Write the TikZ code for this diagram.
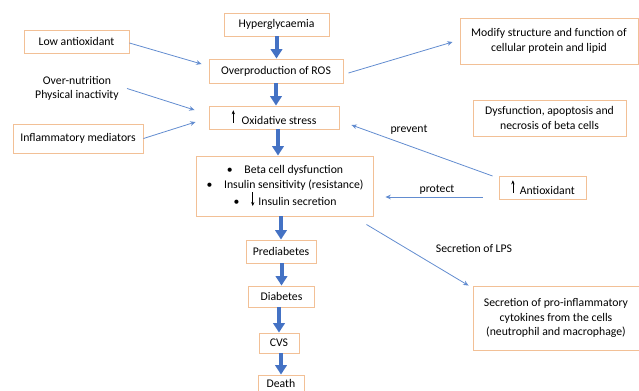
\documentclass[tikz,border=0pt]{standalone}
\usepackage{fontspec}
\setmainfont{Carlito}
\usetikzlibrary{arrows.meta}
\definecolor{boxorange}{RGB}{242,192,150}
\definecolor{arrowblue}{RGB}{68,114,196}
\definecolor{lineblue}{RGB}{98,140,208}
\newcommand{\uparr}{\tikz[baseline=-1.5pt]\draw[line width=0.5pt,-{Stealth[length=3pt,width=2.5pt]}] (0,0) -- (0,9.5pt);}
\newcommand{\downarr}{\tikz[baseline=-1pt]\draw[line width=0.5pt,-{Stealth[length=3pt,width=2.5pt]}] (0,9pt) -- (0,-1.5pt);}
\begin{document}
\begin{tikzpicture}[x=0.75pt,y=-0.75pt,
	font=\fontsize{8.8pt}{11pt}\selectfont,
	main node/.style = {rectangle,draw=boxorange,line width=0.7pt,inner sep=0pt,align=center},
	big arrow/.style = {draw=arrowblue,line width=3pt,-{Triangle[length=7pt,width=8.5pt]}},
	thin arrow/.style = {draw=lineblue,line width=0.6pt,-{Stealth[length=4pt,width=3.5pt]}}]
	
	\useasboundingbox (0,0) rectangle (639,390);
	
	% central chain
	\node[main node,minimum width=78.75pt,minimum height=17.25pt] at (276.5,24.5) (1) {Hyperglycaemia};
	\node[main node,minimum width=100.5pt,minimum height=18pt] at (276,71) (2) {Overproduction of ROS};
	\node[main node,minimum width=97.5pt,minimum height=17.25pt] at (274,117.5) (3) {\uparr\hspace{5pt}Oxidative stress};
	\node[main node,minimum width=132.75pt,minimum height=45pt] at (285,186) (4)
		{\textbullet\quad Beta cell dysfunction\\
		 \textbullet\quad Insulin sensitivity (resistance)\\
		 \textbullet\quad \downarr\hspace{3pt}Insulin secretion};
	\node[main node,minimum width=52.5pt,minimum height=17.25pt] at (281,251.5) (5) {Prediabetes};
	\node[main node,minimum width=49.5pt,minimum height=15.75pt] at (281.5,296.5) (6) {Diabetes};
	\node[main node,minimum width=30pt,minimum height=15pt] at (279,343) (7) {CVS};
	\node[main node,minimum width=34.5pt,minimum height=12pt] at (281,383) (8) {Death};
	
	% left side
	\node[main node,minimum width=78.75pt,minimum height=17.25pt] at (76.5,41.5) (9) {Low antioxidant};
	\node[align=center,inner sep=0pt] at (77,88.5) (10) {Over-nutrition\\Physical inactivity};
	\node[main node,minimum width=97.5pt,minimum height=21.75pt] at (78,138.5) (11) {Inflammatory mediators};
	
	% right side
	\node[main node,minimum width=133.5pt,minimum height=34.5pt] at (549,41) (12)
		{Modify structure and function of\\cellular protein and lipid};
	\node[main node,minimum width=114.75pt,minimum height=27pt] at (549.5,118) (13)
		{Dysfunction, apoptosis and\\necrosis of beta cells};
	\node[main node,minimum width=65.25pt,minimum height=17.25pt] at (543,187.5) (14) {\uparr\hspace{4pt}Antioxidant};
	\node[main node,minimum width=124.5pt,minimum height=48pt] at (556,318) (15)
		{Secretion of pro-inflammatory\\cytokines from the cells\\(neutrophil and macrophage)};
	
	\node at (409,130) (16) {prevent};
	\node at (437,190) (17) {protect};
	\node at (474,248) (18) {Secretion of LPS};
	
	\draw[big arrow] (1.south) -- (1.south |- 2.north);
	\draw[big arrow] (2.south) -- (2.south |- 3.north);
	\draw[big arrow] ([xshift=3]3.south) -- ([xshift=3]3.south |- 4.north);
	\draw[big arrow] (5.north |- 4.south) -- (5.north);
	\draw[big arrow] (6.north |- 5.south) -- (6.north);
	\draw[big arrow] (7.north |- 6.south) -- (7.north);
	\draw[big arrow] (8.north |- 7.south) -- (8.north);
	
	\draw[thin arrow] ([shift={(0,1.5)}]9.east) -- ([shift={(-7,-7)}]2.west);
	\draw[thin arrow] ([shift={(8,0)}]10.east) -- ([shift={(-14,-7.5)}]3.west);
	\draw[thin arrow] (11.east) -- ([shift={(-13,4.5)}]3.west);
	\draw[thin arrow] ([shift={(5,2)}]2.east) -- ([shift={(-7,1)}]12.west);
	\draw[thin arrow] ([shift={(-6.5,-11.5)}]14.west) -- ([shift={(12,7.5)}]3.east);
	\draw[thin arrow] ([shift={(-16.5,9.5)}]14.west) -- ([shift={(11.5,11)}]4.east);
	\draw[thin arrow] ([shift={(-7.5,8)}]4.south east) -- ([shift={(-4,0)}]15.north west);
	
\end{tikzpicture}
\end{document}
